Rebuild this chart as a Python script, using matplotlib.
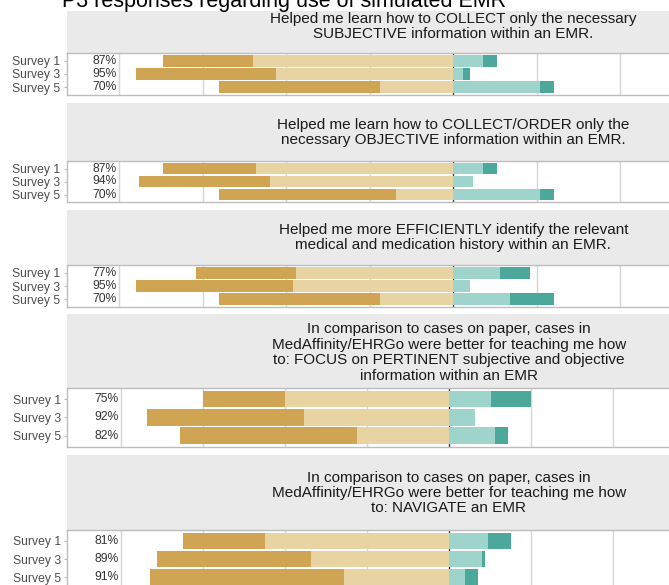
import numpy as np
import matplotlib.pyplot as plt

plt.rcParams['font.family'] = ['Liberation Sans', 'DejaVu Sans']

W, H = 669, 585

surveys = ["Survey 1", "Survey 3", "Survey 5"]

questions = [
    "Helped me learn how to COLLECT only the necessary\nSUBJECTIVE information within an EMR.",
    "Helped me learn how to COLLECT/ORDER only the\nnecessary OBJECTIVE information within an EMR.",
    "Helped me more EFFICIENTLY identify the relevant\nmedical and medication history within an EMR.",
    "In comparison to cases on paper, cases in\nMedAffinity/EHRGo were better for teaching me how\n"
    "to: FOCUS on PERTINENT subjective and objective\ninformation within an EMR",
    "In comparison to cases on paper, cases in\nMedAffinity/EHRGo were better for teaching me how\n"
    "to: NAVIGATE an EMR",
]

# percent of responses per question, rows = Survey 1, 3, 5
strongly_agree = [[27, 42, 48], [28, 39, 53], [30, 47, 48], [25, 48, 54], [25, 47, 59]]
agree = [[60, 53, 22], [59, 55, 17], [47, 48, 22], [50, 44, 28], [56, 42, 32]]
disagree = [[9, 3, 26], [9, 6, 26], [14, 5, 17], [13, 8, 14], [12, 10, 5]]
strongly_disagree = [[4, 2, 4], [4, 0, 4], [9, 0, 13], [12, 0, 4], [7, 1, 4]]

c_sa = "#CFA452"
c_a = "#E8D3A2"
c_d = "#9ED4CC"
c_sd = "#4BA89A"

# layout in pixels: left edge, centre line, x range (%), panel top, panel bottom, strip top, strip text y
layout = [
    (66.7, 453.3, 115.7, 52.7, 95.0, 11.0, 26.5),
    (66.7, 453.3, 115.7, 160.7, 202.3, 103.3, 132.5),
    (66.7, 453.3, 115.7, 265.0, 307.3, 210.0, 237.5),
    (67.3, 448.8, 116.3, 388.3, 446.5, 314.0, 352.5),
    (67.3, 448.8, 116.3, 530.0, 588.3, 455.0, 493.0),
]

fig = plt.figure(figsize=(W / 100, H / 100), dpi=100)


def px_axes(x0, y0, x1, y1):
    return fig.add_axes([x0 / W, 1 - y1 / H, (x1 - x0) / W, (y1 - y0) / H])


for i, (left, center, rng, ptop, pbot, stop, ty) in enumerate(layout):
    right = center + (center - left)

    # strip
    sax = px_axes(left, stop, right, ptop)
    sax.set_facecolor("#EAEAEA")
    sax.set_xlim(left, right)
    sax.set_ylim(ptop, stop)
    sax.set_xticks([])
    sax.set_yticks([])
    for s in sax.spines.values():
        s.set_visible(False)
    sax.text(center, ty, questions[i], ha="center", va="center",
             fontsize=11, color="#1a1a1a", linespacing=1.13)

    # panel
    ax = px_axes(left, ptop, right, pbot)
    y = np.arange(1, 4)
    sa = np.array(strongly_agree[i])
    a = np.array(agree[i])
    d = np.array(disagree[i])
    sd = np.array(strongly_disagree[i])
    ax.barh(y, -a, left=0, height=0.9, color=c_a, zorder=2)
    ax.barh(y, -sa, left=-a, height=0.9, color=c_sa, zorder=2)
    ax.barh(y, d, left=0, height=0.9, color=c_d, zorder=2)
    ax.barh(y, sd, left=d, height=0.9, color=c_sd, zorder=2)
    for g in range(-100, 101, 25):
        ax.axvline(g, color="#D6D6D6", lw=1, zorder=0)
    ax.axvline(0, color="#333333", lw=0.9, zorder=1)
    for yy, tot in zip(y, sa + a):
        ax.text(-104.3, yy, f"{tot}%", ha="center", va="center",
                fontsize=8.7, color="#333333")
    ax.set_xlim(-rng, rng)
    ax.set_ylim(3.6, 0.4)
    ax.set_xticks([])
    ax.set_yticks(y)
    ax.set_yticklabels(surveys, fontsize=8.7, color="#4D4D4D")
    ax.tick_params(axis="y", length=2.5, color="#BDBDBD", pad=2)
    for s in ax.spines.values():
        s.set_color("#BDBDBD")
        s.set_linewidth(1)

fig.text(62 / W, 1 - 7.5 / H, "P3 responses regarding use of simulated EMR",
         ha="left", va="baseline", fontsize=15.5, color="black")

fig.savefig("out.png", dpi=100)
